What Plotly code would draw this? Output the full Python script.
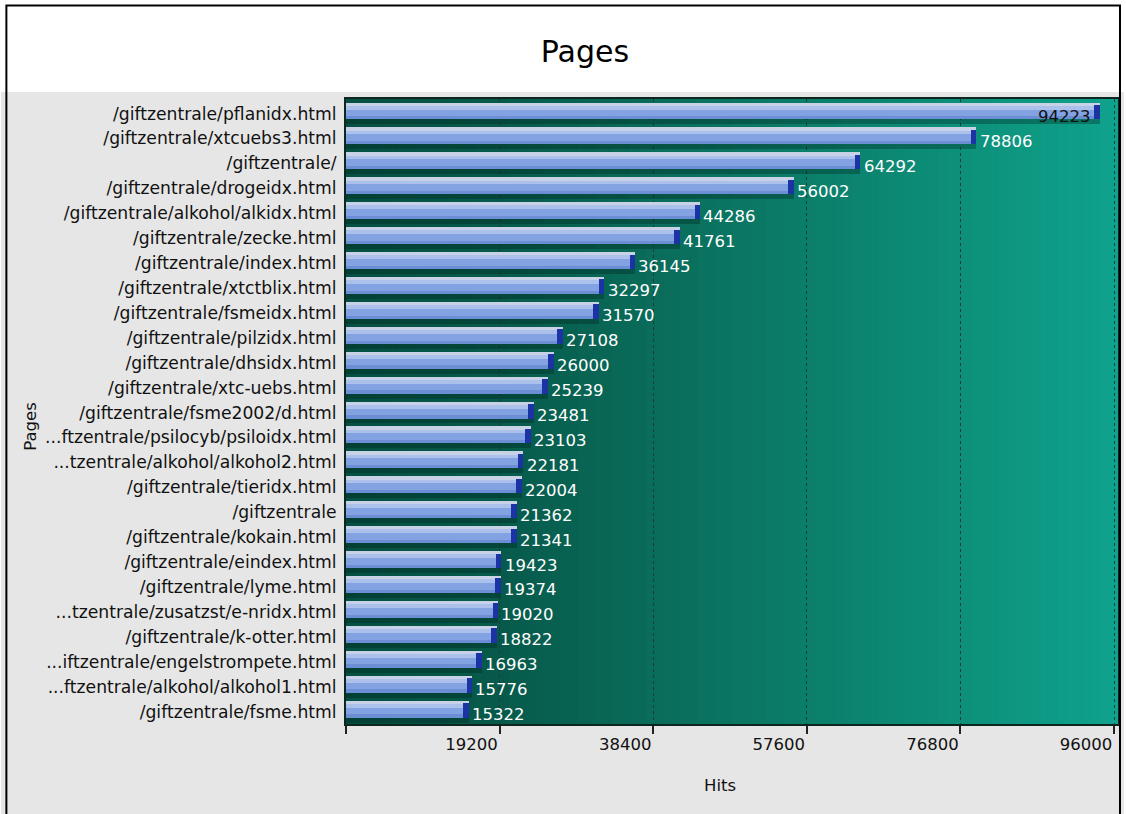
import plotly.graph_objects as go

pages = [
    "/giftzentrale/pflanidx.html",
    "/giftzentrale/xtcuebs3.html",
    "/giftzentrale/",
    "/giftzentrale/drogeidx.html",
    "/giftzentrale/alkohol/alkidx.html",
    "/giftzentrale/zecke.html",
    "/giftzentrale/index.html",
    "/giftzentrale/xtctblix.html",
    "/giftzentrale/fsmeidx.html",
    "/giftzentrale/pilzidx.html",
    "/giftzentrale/dhsidx.html",
    "/giftzentrale/xtc-uebs.html",
    "/giftzentrale/fsme2002/d.html",
    "...ftzentrale/psilocyb/psiloidx.html",
    "...tzentrale/alkohol/alkohol2.html",
    "/giftzentrale/tieridx.html",
    "/giftzentrale",
    "/giftzentrale/kokain.html",
    "/giftzentrale/eindex.html",
    "/giftzentrale/lyme.html",
    "...tzentrale/zusatzst/e-nridx.html",
    "/giftzentrale/k-otter.html",
    "...iftzentrale/engelstrompete.html",
    "...ftzentrale/alkohol/alkohol1.html",
    "/giftzentrale/fsme.html",
]
hits = [94223, 78806, 64292, 56002, 44286, 41761, 36145, 32297, 31570, 27108,
        26000, 25239, 23481, 23103, 22181, 22004, 21362, 21341, 19423, 19374,
        19020, 18822, 16963, 15776, 15322]

x_tick_vals = [0, 19200, 38400, 57600, 76800, 96000]
x_tick_text = ["", "19200", "38400", "57600", "76800", "96000"]

W, H = 1126, 814
ML, MR, MT, MB = 346, 6, 99, 90
PW, PH = W - ML - MR, H - MT - MB
FONT = "DejaVu Sans"
FS = 16.5
FSY = 17.2


def px(xp):
    return (xp - ML) / PW


def py(yp):
    return (H - MB - yp) / PH


fig = go.Figure()

# shadow under bars
fig.add_trace(go.Bar(y=pages, x=hits, orientation="h", offset=-0.16, width=0.6,
                     marker=dict(color="rgba(0,32,26,0.32)", line=dict(width=0)),
                     hoverinfo="skip", showlegend=False))
# main bar body
fig.add_trace(go.Bar(y=pages, x=hits, orientation="h", offset=-0.44, width=0.68,
                     marker=dict(color="#82a2e2", line=dict(width=0)),
                     showlegend=False))
# top highlight
fig.add_trace(go.Bar(y=pages, x=hits, orientation="h", offset=-0.44, width=0.13,
                     marker=dict(color="#c8d2e6", line=dict(width=0)),
                     hoverinfo="skip", showlegend=False))
fig.add_trace(go.Bar(y=pages, x=hits, orientation="h", offset=-0.31, width=0.15,
                     marker=dict(color="#abc1ec", line=dict(width=0)),
                     hoverinfo="skip", showlegend=False))
fig.add_trace(go.Bar(y=pages, x=hits, orientation="h", offset=0.11, width=0.13,
                     marker=dict(color="#6b8ed5", line=dict(width=0)),
                     hoverinfo="skip", showlegend=False))
# dark blue end cap
cap = 700
fig.add_trace(go.Bar(y=pages, x=[cap] * len(hits), base=[h - cap for h in hits],
                     orientation="h", offset=-0.34, width=0.58,
                     marker=dict(color="#1c33a6", line=dict(width=0)),
                     hoverinfo="skip", showlegend=False))

# value labels
annotations = []
for i, (p, h) in enumerate(zip(pages, hits)):
    inside = i == 0
    annotations.append(dict(
        x=h - (cap + 150 if inside else -150), y=p, xref="x", yref="y",
        text=str(h), showarrow=False,
        xanchor="right" if inside else "left", yanchor="middle", yshift=-3,
        font=dict(family=FONT, size=FS, color="#111111" if inside else "#ffffff"),
    ))

# axis titles
annotations.append(dict(x=px(721), y=py(785), xref="paper", yref="paper", text="Hits",
                        showarrow=False, xanchor="center", yanchor="middle",
                        font=dict(family=FONT, size=FS, color="#111111")))
annotations.append(dict(x=px(29), y=py(426), xref="paper", yref="paper", text="Pages",
                        showarrow=False, xanchor="center", yanchor="middle", textangle=-90,
                        font=dict(family=FONT, size=FS, color="#111111")))

shapes = []
# grey lower background
shapes.append(dict(type="rect", xref="paper", yref="paper", x0=px(0), x1=px(W),
                   y0=py(H + 5), y1=py(92), fillcolor="#e6e6e6", line=dict(width=0),
                   layer="below"))
# outer frame
shapes.append(dict(type="rect", xref="paper", yref="paper", x0=px(5.5), x1=px(1122),
                   y0=py(H + 20), y1=py(5.5), fillcolor="rgba(0,0,0,0)",
                   line=dict(color="#000000", width=2), layer="above"))
# gradient plot background
stops = [(0.0, (5, 80, 66)), (0.2, (7, 90, 75)), (0.4, (10, 108, 90)),
         (0.6, (11, 126, 106)), (0.8, (13, 145, 123)), (1.0, (15, 162, 140))]


def grad(t):
    for (t0, c0), (t1, c1) in zip(stops[:-1], stops[1:]):
        if t <= t1:
            f = (t - t0) / (t1 - t0)
            return "rgb(%d,%d,%d)" % tuple(round(a + (b - a) * f) for a, b in zip(c0, c1))
    return "rgb(%d,%d,%d)" % stops[-1][1]


N = 90
for k in range(N):
    shapes.append(dict(type="rect", xref="paper", yref="paper", x0=k / N,
                       x1=min(1, (k + 1) / N + 0.002), y0=0, y1=1,
                       fillcolor=grad((k + 0.5) / N), line=dict(width=0), layer="below"))

fig.update_layout(
    width=W, height=H,
    margin=dict(l=ML, r=MR, t=MT, b=MB, pad=0),
    paper_bgcolor="#ffffff", plot_bgcolor="#0a6a58",
    barmode="overlay", bargap=0,
    title=dict(text="Pages", x=585 / W, xanchor="center", y=1 - 51 / H, yanchor="middle",
               font=dict(family=FONT, size=30, color="#000000")),
    xaxis=dict(range=[0, 96500], tickvals=x_tick_vals, ticktext=x_tick_text,
               ticks="outside", ticklen=8, tickwidth=1.5, tickcolor="#222222",
               ticklabelposition="outside left", ticklabeloverflow="allow",
               ticklabelstandoff=4,
               showgrid=True, gridcolor="#1b3b33", griddash="dot", gridwidth=1,
               showline=True, linecolor="#0d2620", linewidth=2, mirror=True,
               zeroline=False, tickfont=dict(family=FONT, size=FS, color="#111111"),
               fixedrange=True),
    yaxis=dict(autorange="reversed", ticks="", ticklabelstandoff=4,
               showline=True, linecolor="#0d2620", linewidth=2, mirror=True,
               showgrid=False, tickfont=dict(family=FONT, size=FSY, color="#111111"),
               fixedrange=True),
    annotations=annotations,
    shapes=shapes,
    showlegend=False,
)

fig.write_html("out.html", config={"displayModeBar": False},
               post_script="document.body.style.margin='0px';"
                           "document.body.style.overflow='hidden';")
